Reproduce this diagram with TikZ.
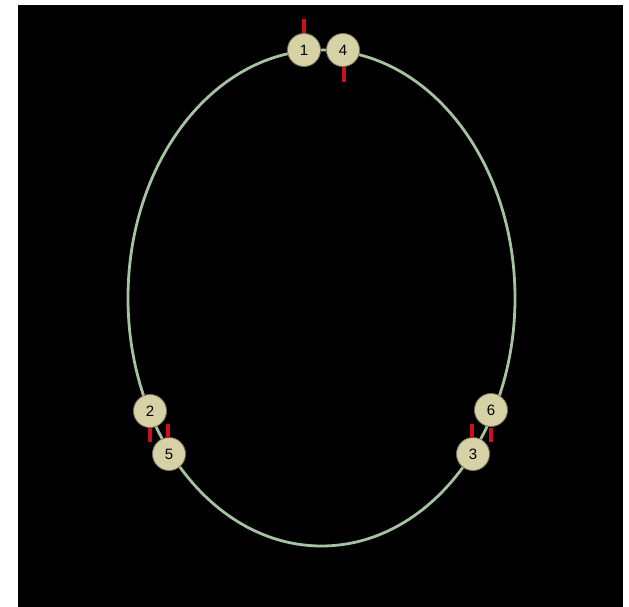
\documentclass[tikz,border=0pt]{standalone}
\usepackage{fontspec}
\setmainfont{Liberation Sans}
\definecolor{bead}{RGB}{214,210,165}
\definecolor{beadline}{RGB}{120,118,95}
\definecolor{ring}{RGB}{165,195,162}
\definecolor{tick}{RGB}{200,20,25}
\begin{document}
\begin{tikzpicture}[x=1pt,y=-1pt,
  bead/.style={circle,fill=bead,draw=beadline,line width=0.8pt,minimum size=33pt,inner sep=0pt,font=\fontsize{15}{15}\selectfont},
  ringline/.style={draw=ring,line width=2.8pt},
  tickline/.style={draw=tick,line width=3.2pt}]
\useasboundingbox (0,0) rectangle (629,607);
\fill[white] (0,0) rectangle (629,607);
\fill[black] (18,5) rectangle (623,607);
\draw[ringline] (321.5,298) ellipse [x radius=193.5, y radius=248];
\node[bead] (n1) at (304,50) {1};
\node[bead] (n4) at (343,50) {4};
\node[bead] (n2) at (150,411) {2};
\node[bead] (n5) at (169,454) {5};
\node[bead] (n6) at (491,410) {6};
\node[bead] (n3) at (473,454) {3};
\coordinate (t1a) at (304,19); \coordinate (t1b) at (304,33);
\coordinate (t4a) at (344,67); \coordinate (t4b) at (344,82);
\coordinate (t2a) at (150,428); \coordinate (t2b) at (150,442);
\coordinate (t5a) at (168,424); \coordinate (t5b) at (168,438);
\coordinate (t3a) at (472,424); \coordinate (t3b) at (472,438);
\coordinate (t6a) at (491,428); \coordinate (t6b) at (491,442);
\draw[tickline] (t1a) -- (t1b);
\draw[tickline] (t4a) -- (t4b);
\draw[tickline] (t2a) -- (t2b);
\draw[tickline] (t5a) -- (t5b);
\draw[tickline] (t3a) -- (t3b);
\draw[tickline] (t6a) -- (t6b);
\end{tikzpicture}
\end{document}
